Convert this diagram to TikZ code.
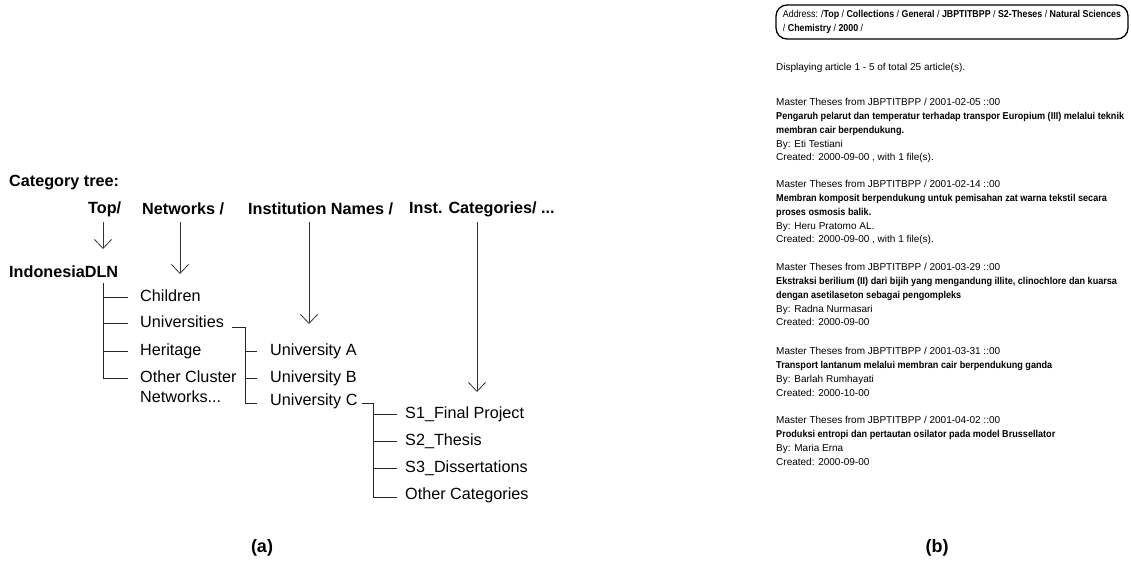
\documentclass[tikz,border=0pt]{standalone}
\usepackage{fontspec}
\setmainfont{Liberation Sans}
\usepackage{graphicx}
\usetikzlibrary{arrows.meta}
\newcommand\nb[1]{\scalebox{0.91}[1]{\bfseries #1}}
\newcommand\adl[1]{\scalebox{0.885}[1]{#1}}
\begin{document}
\begin{tikzpicture}[x=1pt,y=-1pt,
  head/.style={font=\fontsize{16.2}{20}\selectfont\bfseries, anchor=west, inner sep=0pt},
  tree/.style={font=\fontsize{16.2}{20}\selectfont, anchor=west, inner sep=0pt, text height=11.6pt, text depth=3.4pt},
  treeml/.style={font=\fontsize{16.2}{20}\selectfont, anchor=north west, inner sep=0pt, align=left},
  branch/.style={line width=0.8pt, black!85},
  down/.style={-{Straight Barb[length=9pt,width=17pt,line width=0.8pt]}, line width=0.8pt, black!80},
  rp/.style={font=\fontsize{10}{13.8}\selectfont, anchor=north west, inner sep=0pt, align=left},
  addr/.style={draw, line width=1.3pt, rounded corners=11pt, minimum width=352pt, minimum height=34pt,
    inner sep=0pt, align=left, font=\fontsize{10}{14}\selectfont},
  capt/.style={font=\fontsize{18}{22}\selectfont\bfseries}]
\useasboundingbox (0,0) rectangle (1131,560);

% ---------- (a) category tree ----------
\node[head] (cat) at (9,183) {Category tree:};
\node[head] (top) at (88,209) {Top/};
\node[head] (net) at (142,209) {Networks /};
\node[head] (inst) at (248,209) {Institution Names /};
\node[head] (icat) at (409,209) {Inst. Categories/ ...};

\node[head] (idln) at (9,272) {IndonesiaDLN};

\node[tree] (child) at (140,297) {Children};
\node[tree] (univ) at (140,323) {Universities};
\node[tree] (herit) at (140,351) {Heritage};
\node[treeml] (other) at (140,371) {Other Cluster\\Networks...};

\node[tree] (ua) at (270,351) {University A};
\node[tree] (ub) at (270,378) {University B};
\node[tree] (uc) at (270,401) {University C};

\node[tree] (s1) at (405,414) {S1\_Final Project};
\node[tree] (s2) at (405,441) {S2\_Thesis};
\node[tree] (s3) at (405,468) {S3\_Dissertations};
\node[tree] (oth) at (405,495) {Other Categories};

% arrows from the path headers
\coordinate (a1s) at (103,222); \coordinate (a1e) at (103,249);
\coordinate (a2s) at (180,222); \coordinate (a2e) at (180,274);
\coordinate (a3s) at (309,222); \coordinate (a3e) at (309,324);
\coordinate (a4s) at (477,222); \coordinate (a4e) at (477,392);
\draw[down] (a1s) -- (a1e);
\draw[down] (a2s) -- (a2e);
\draw[down] (a3s) -- (a3e);
\draw[down] (a4s) -- (a4e);

% trunk under IndonesiaDLN
\coordinate (t1) at (103,283);
\coordinate (t1end) at (128,378);
\draw[branch] (t1) |- (t1end);
\draw[branch] (t1 |- child.west) -- ([xshift=-12pt]child.west);
\draw[branch] (t1 |- univ.west) -- ([xshift=-12pt]univ.west);
\draw[branch] (t1 |- herit.west) -- ([xshift=-12pt]herit.west);

% Universities branch
\coordinate (u0) at (232,327);
\coordinate (ut) at (245,327);
\draw[branch] (u0) -- (ut) |- ([xshift=-13pt,yshift=-2pt]uc.west);
\draw[branch] (ut |- ua.west) -- ([xshift=-13pt]ua.west);
\draw[branch] (ut |- ub.west) -- ([xshift=-13pt]ub.west);

% University C branch
\coordinate (c0) at (362,403);
\coordinate (ct) at (373,403);
\draw[branch] (c0) -- (ct) |- ([xshift=-8pt,yshift=-2pt]oth.west);
\draw[branch] (ct |- s1.west) -- ([xshift=-8pt]s1.west);
\draw[branch] (ct |- s2.west) -- ([xshift=-8pt]s2.west);
\draw[branch] (ct |- s3.west) -- ([xshift=-8pt]s3.west);

\node[capt] (capa) at (262,548) {(a)};

% ---------- (b) article listing ----------
\node[addr] (addr) at (952,22) {\adl{Address: /\textbf{Top} / \textbf{Collections} / \textbf{General} / \textbf{JBPTITBPP} / \textbf{S2-Theses} / \textbf{Natural Sciences}}\\\adl{/ \textbf{Chemistry} / \textbf{2000} /}};

\node[rp] (disp) at (776,63.2) {Displaying article 1 - 5 of total 25 article(s).};

\node[rp] (e1) at (776,98.2) {Master Theses from JBPTITBPP / 2001-02-05 ::00\\
\nb{Pengaruh pelarut dan temperatur terhadap transpor Europium (III) melalui teknik}\\
\nb{membran cair berpendukung.}\\
By: Eti Testiani\\
Created: 2000-09-00 , with 1 file(s).};

\node[rp] (e2) at (776,180.2) {Master Theses from JBPTITBPP / 2001-02-14 ::00\\
\nb{Membran komposit berpendukung untuk pemisahan zat warna tekstil secara}\\
\nb{proses osmosis balik.}\\
By: Heru Pratomo AL.\\
Created: 2000-09-00 , with 1 file(s).};

\node[rp] (e3) at (776,263.2) {Master Theses from JBPTITBPP / 2001-03-29 ::00\\
\nb{Ekstraksi berilium (II) dari bijih yang mengandung illite, clinochlore dan kuarsa}\\
\nb{dengan asetilaseton sebagai pengompleks}\\
By: Radna Nurmasari\\
Created: 2000-09-00};

\node[rp] (e4) at (776,347.2) {Master Theses from JBPTITBPP / 2001-03-31 ::00\\
\nb{Transport lantanum melalui membran cair berpendukung ganda}\\
By: Barlah Rumhayati\\
Created: 2000-10-00};

\node[rp] (e5) at (776,416.2) {Master Theses from JBPTITBPP / 2001-04-02 ::00\\
\nb{Produksi entropi dan pertautan osilator pada model Brussellator}\\
By: Maria Erna\\
Created: 2000-09-00};

\node[capt] (capb) at (937,548) {(b)};
\end{tikzpicture}
\end{document}
